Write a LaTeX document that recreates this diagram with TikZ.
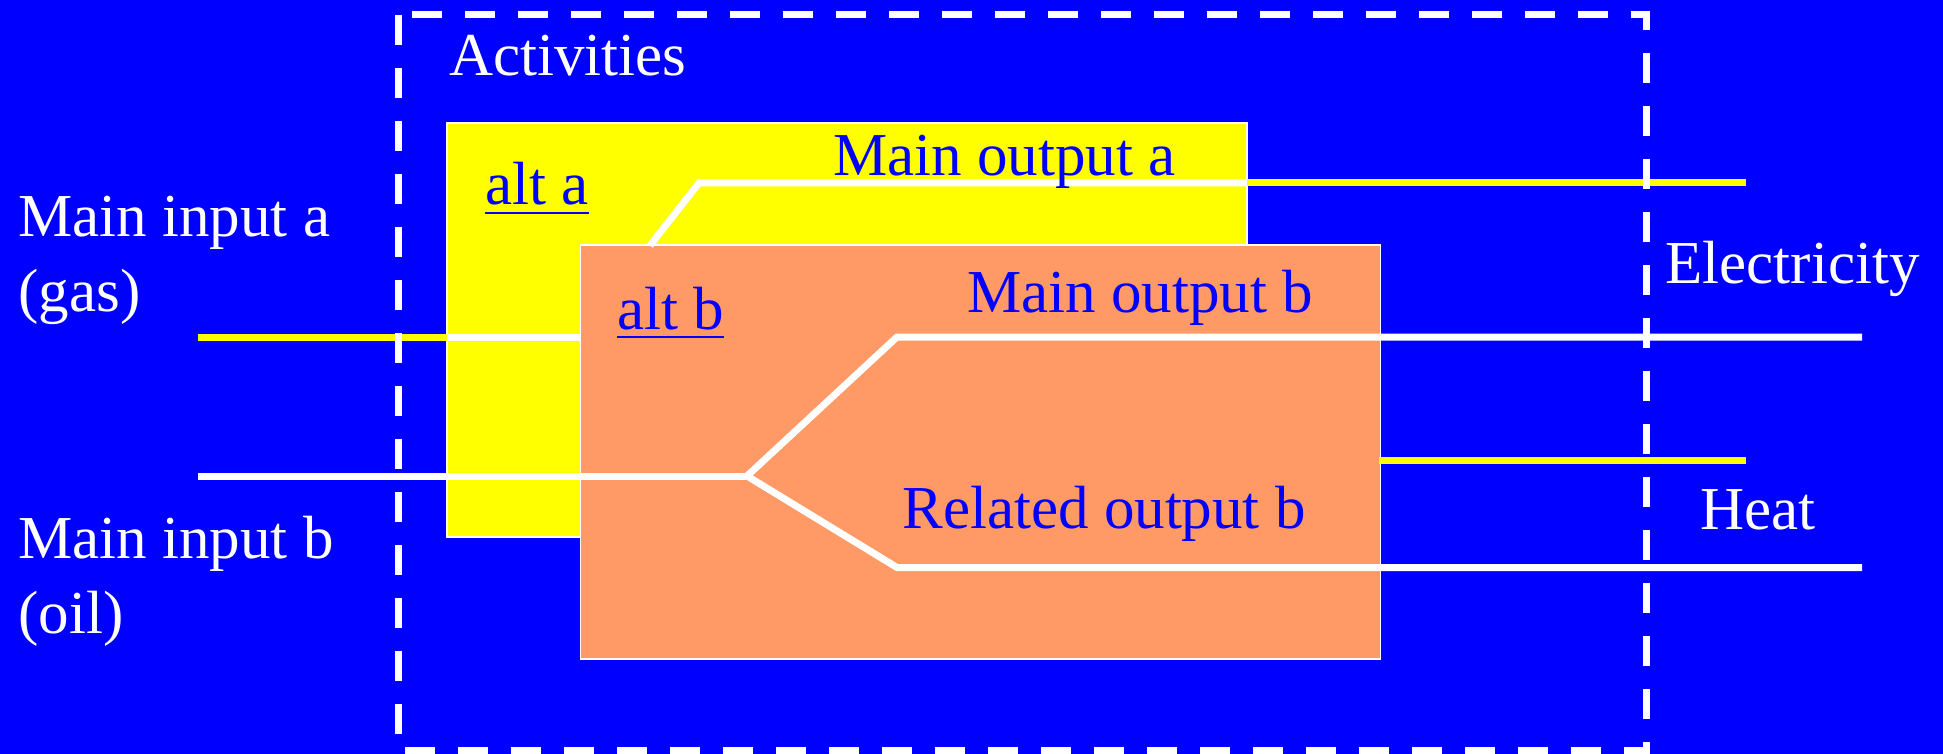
\documentclass[tikz,border=0pt]{standalone}
\usepackage{fontspec}
\setmainfont{Liberation Serif}
\definecolor{bgblue}{RGB}{0,0,255}
\definecolor{boxyellow}{RGB}{255,255,0}
\definecolor{boxorange}{RGB}{255,153,102}
\newcommand\ulinebox[1]{\setbox0\hbox{#1}\rlap{\rule[-4.6pt]{\wd0}{1.2pt}}\box0}
\begin{document}
\begin{tikzpicture}[x=0.5pt,y=-0.5pt,
  lbl/.style={anchor=base west, inner sep=0pt, font=\fontsize{30.5}{37.5}\selectfont},
  wlbl/.style={lbl, text=white},
  blbl/.style={lbl, text=bgblue},
  altbox/.style={draw=white, line width=0.7pt, minimum width=400pt, minimum height=207pt, inner sep=0pt},
  wline/.style={draw=white, line width=3.5pt, line cap=butt, line join=miter},
  yline/.style={draw=boxyellow, line width=3.5pt, line cap=butt},
  bound/.style={draw=white, line width=3.5pt, dash pattern=on 15pt off 11.5pt}]
\useasboundingbox (0,0) rectangle (1943,754);
\fill[bgblue] (0,0) rectangle (1943,754);

% boxes
\node[altbox, fill=boxyellow] (boxa) at (847,330) {};
\node[altbox, fill=boxorange] (boxb) at (980.5,452) {};

% coordinates
\coordinate (ina0) at (198,337);
\coordinate (ina1) at (447,337);
\coordinate (ina2) at (581,337);
\coordinate (inb0) at (198,476);
\coordinate (split) at (747,476);
\coordinate (mb1) at (897,337);
\coordinate (mb2) at (1862,337);
\coordinate (rb1) at (897,567.5);
\coordinate (rb2) at (1862,567.5);
\coordinate (ma0) at (650,245.5);
\coordinate (ma1) at (699,183);
\coordinate (ma2) at (1247,183);
\coordinate (ma3) at (1746,183);
\coordinate (ht0) at (1379,460);
\coordinate (ht1) at (1746,460);

% flows
\draw[yline] (ina0) -- (ina1);
\draw[wline] (ina1) -- (ina2);
\draw[wline] (inb0) -- (split);
\draw[wline] (split) -- (mb1) -- (mb2);
\draw[wline] (split) -- (rb1) -- (rb2);
\draw[wline] (ma0) -- (ma1) -- (ma2);
\draw[yline] (ma2) -- (ma3);
\draw[yline] (ht0) -- (ht1);

% labels
\node[wlbl] (act) at (449,76) {Activities};
\node[blbl] (alta) at (485,205) {\ulinebox{alt a}};
\node[blbl] (mouta) at (833,176) {Main output a};
\node[blbl] (altb) at (617,329) {\ulinebox{alt b}};
\node[blbl] (moutb) at (967,313) {Main output b};
\node[blbl] (routb) at (902,528) {Related output b};
\node[wlbl] (elec) at (1665,284) {Electricity};
\node[wlbl] (heat) at (1700,529) {Heat};
\node[wlbl, align=left] (inpa) at (18,312) {Main input a\\(gas)};
\node[wlbl, align=left] (inpb) at (18,633) {Main input b\\(oil)};

% activity boundary
\draw[bound] (398,15) rectangle (1646,750);
\end{tikzpicture}
\end{document}
